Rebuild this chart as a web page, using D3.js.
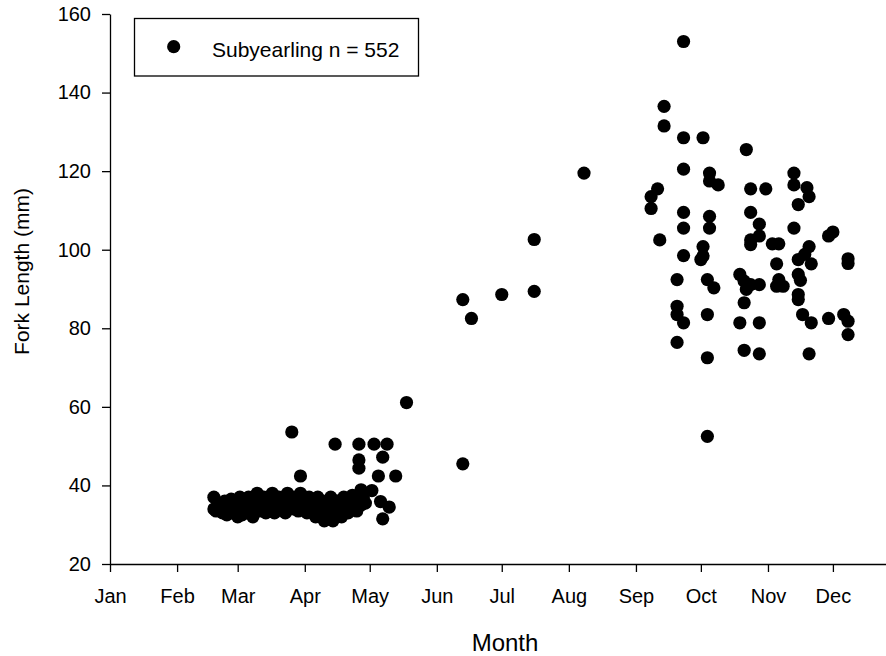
<!DOCTYPE html>
<html>
<head>
<meta charset="utf-8">
<script src="https://cdn.jsdelivr.net/npm/d3@7"></script>
<style>
  html, body { margin: 0; padding: 0; background: #fff; }
  svg { display: block; font-family: "Liberation Sans", Arial, Helvetica, sans-serif; }
</style>
</head>
<body>
<svg id="chart" width="886" height="656"></svg>
<script>
// ---- Data ----
// Each observation: [Julian day (Jan 1 = 1), fork length in mm]
const springCluster = [
  [49,37],[49,34],[50,33.5],[52,35],[53,33],[54,36],[55,32.5],[56,34],[57,36.5],[58,33],[59,35],[60,32],[61,37],[61,34],
  [62,32.5],[63,35.5],[64,33.5],[65,37],[66,34.5],[67,32],[68,36],[69,38],[70,33.5],[71,35],[72,37],[73,33],[74,34.5],
  [75,36],[76,38],[77,33],[78,35],[79,37],[80,34],[81,36],[82,33],[83,38],[84,35],[85,37],[86,34],[87,36],[88,33.5],
  [89,38],[90,35],[91,36.5],[92,33],[93,37],[94,34],[95,35.5],[96,32],[97,37],[98,34],[99,36],[100,31],[101,33],
  [102,35],[103,37],[104,31],[105,33.5],[106,36],[107,34],[108,32],[109,37],[110,35],[111,33],[112,36],[113,34],
  [114,35.5],[115,33.5],[116,36],[117,35],[119,35.5],[113,37.5],[118,37]
];
const springOutliers = [
  [89,42.4],[85,53.6],[105,50.5],[116,50.5],[116,46.5],[116,44.4],[117,38.9],[123,50.5],[122,38.7],
  [129,50.5],[127,47.2],[127,31.5],[125,42.4],[133,42.4],[126,35.9],[130,34.5],[138,61.1]
];
const summerFish = [
  [164,87.3],[164,45.5],[168,82.5],[182,88.6],[197,102.6],[197,89.4],[220,119.5]
];
const autumnFish = [
  [266,153],[257,136.5],[257,131.5],[266,128.5],[275,128.5],[295,125.5],[266,120.5],[278,119.5],[278,117.5],
  [282,116.5],[254,115.5],[251,113.5],[251,110.5],[297,115.5],[304,115.5],[317,119.5],[317,116.5],[323,115.8],
  [324,113.5],[319,111.5],[266,109.5],[278,108.5],[297,109.5],[301,106.5],[266,105.5],[278,105.5],[317,105.5],
  [335,104.5],[333,103.5],[255,102.5],[301,103.5],[297,102.5],[297,101.3],[307,101.5],[310,101.5],[275,100.8],
  [275,98.4],[274,97.5],[266,98.5],[324,100.8],[319,97.5],[322,98.8],[325,96.4],[342,97.7],[342,96.5],[309,96.4],
  [263,92.4],[277,92.4],[280,90.3],[292,93.7],[294,92],[297,91.1],[301,91.1],[295,89.9],[294,86.5],[310,92.4],
  [309,90.7],[312,90.7],[319,93.7],[320,92.2],[319,88.6],[319,87.3],[263,85.6],[263,83.5],[266,81.4],[277,83.5],
  [292,81.4],[301,81.4],[321,83.5],[325,81.4],[333,82.5],[340,83.5],[342,81.8],[342,78.4],[263,76.4],[277,72.5],
  [294,74.4],[301,73.5],[324,73.5],[277,52.5]
];
const yTicks = [20, 40, 60, 80, 100, 120, 140, 160];
const monthLabels = ["Jan","Feb","Mar","Apr","May","Jun","Jul","Aug","Sep","Oct","Nov","Dec"];
const legendLabel = "Subyearling n = 552";
const xTitle = "Month";
const yTitle = "Fork Length (mm)";

// ---- Chart ----
const YEAR = 1900;
const toDate = j => new Date(YEAR, 0, j);
const all = [...springCluster, ...springOutliers, ...summerFish, ...autumnFish];

const svg = d3.select("#chart");
svg.append("rect").attr("width", 886).attr("height", 656).attr("fill", "#fff");

const x = d3.scaleTime()
  .domain([new Date(YEAR, 0, 1), new Date(YEAR + 1, 0, 1)])
  .range([110, 900]);
const y = d3.scaleLinear().domain([20, 160]).range([564, 14]);

const monthStarts = d3.range(12).map(m => new Date(YEAR, m, 1));

// points
svg.append("g").selectAll("circle").data(all).join("circle")
  .attr("cx", d => x(toDate(d[0])))
  .attr("cy", d => y(d[1]))
  .attr("r", 6.6)
  .attr("fill", "#000");

// x axis
const xAxis = svg.append("g")
  .attr("transform", "translate(0,564)")
  .call(d3.axisBottom(x).tickValues(monthStarts)
    .tickFormat((d, i) => monthLabels[i])
    .tickSize(8).tickSizeOuter(0).tickPadding(17));
// y axis
const yAxis = svg.append("g")
  .attr("transform", "translate(110,0)")
  .call(d3.axisLeft(y).tickValues(yTicks).tickSize(8).tickSizeOuter(0).tickPadding(11));

[xAxis, yAxis].forEach(g => {
  g.selectAll("path.domain").attr("stroke", "#000").attr("stroke-width", 1.3);
  g.selectAll(".tick line").attr("stroke", "#000").attr("stroke-width", 1.3);
  g.selectAll(".tick text").attr("fill", "#000").style("font-size", "20px")
    .style("font-family", '"Liberation Sans", Arial, sans-serif');
});

// titles
svg.append("text")
  .attr("x", 505).attr("y", 650.5)
  .attr("text-anchor", "middle")
  .style("font-size", "24px").attr("fill", "#000")
  .text(xTitle);
svg.append("text")
  .attr("transform", "translate(28.5,271.5) rotate(-90)")
  .attr("text-anchor", "middle")
  .style("font-size", "21px").attr("fill", "#000")
  .text(yTitle);

// legend
const lg = svg.append("g");
lg.append("rect")
  .attr("x", 134.5).attr("y", 18.5).attr("width", 284).attr("height", 57.5)
  .attr("fill", "#fff").attr("stroke", "#000").attr("stroke-width", 1.3);
lg.append("circle").attr("cx", 173.7).attr("cy", 46.7).attr("r", 6.6).attr("fill", "#000");
lg.append("text")
  .attr("x", 212).attr("y", 56.5)
  .style("font-size", "21px").attr("fill", "#000")
  .text(legendLabel);
</script>
</body>
</html>
